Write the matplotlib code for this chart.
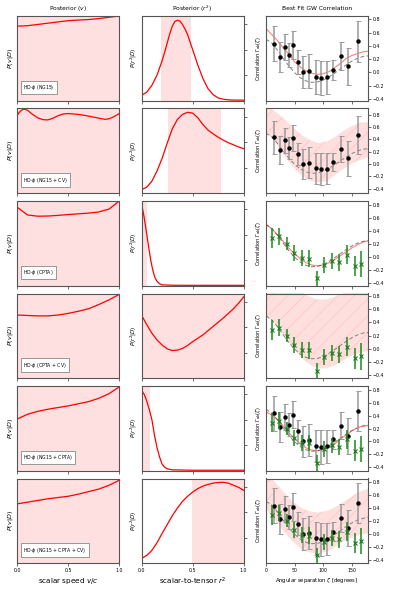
import numpy as np
import matplotlib
matplotlib.use("Agg")
import matplotlib.pyplot as plt

plt.rcParams["hatch.linewidth"] = 0.35

# ---- data ----
row_labels = ["HD-$\\phi$ (NG15)", "HD-$\\phi$ (NG15 + CV)", "HD-$\\phi$ (CPTA)",
              "HD-$\\phi$ (CPTA + CV)", "HD-$\\phi$ (NG15 + CPTA)", "HD-$\\phi$ (NG15 + CPTA + CV)"]

# posterior of v (normalised to axis height)
v_x = [0, 0.1, 0.2, 0.3, 0.4, 0.5, 0.6, 0.7, 0.8, 0.9, 1.0]
v_post = [
    [0.88, 0.885, 0.90, 0.915, 0.93, 0.945, 0.952, 0.958, 0.97, 0.985, 1.0],
    None,
    [0.925, 0.835, 0.82, 0.822, 0.83, 0.84, 0.848, 0.857, 0.87, 0.905, 1.0],
    [0.745, 0.74, 0.735, 0.735, 0.745, 0.765, 0.79, 0.82, 0.87, 0.925, 0.99],
    [0.61, 0.665, 0.70, 0.725, 0.745, 0.765, 0.79, 0.815, 0.855, 0.91, 0.99],
    [0.70, 0.72, 0.74, 0.76, 0.775, 0.79, 0.815, 0.845, 0.875, 0.92, 0.98],
]
v_x_cv = [0, 0.02, 0.04, 0.06, 0.075, 0.1, 0.15, 0.2, 0.25, 0.3, 0.35, 0.4, 0.45, 0.5,
          0.6, 0.7, 0.8, 0.86, 0.9, 0.95, 1.0]
v_post_cv = [0.92, 0.955, 0.978, 0.99, 0.99, 0.98, 0.93, 0.89, 0.868, 0.865, 0.885, 0.915,
             0.935, 0.94, 0.93, 0.91, 0.885, 0.872, 0.878, 0.905, 0.94]

# posterior of r^2
r_x_ng15 = [0, 0.05, 0.1, 0.15, 0.2, 0.225, 0.25, 0.275, 0.3, 0.325, 0.35, 0.375, 0.4,
            0.425, 0.45, 0.5, 0.55, 0.6, 0.65, 0.7, 0.75, 0.8, 0.85, 0.9, 1.0]
r_post_ng15 = [0.06, 0.10, 0.18, 0.30, 0.47, 0.57, 0.68, 0.79, 0.88, 0.935, 0.95, 0.94, 0.90,
               0.845, 0.78, 0.60, 0.42, 0.26, 0.14, 0.07, 0.03, 0.015, 0.008, 0.005, 0.004]
r_x20 = [0, 0.05, 0.1, 0.15, 0.2, 0.25, 0.3, 0.35, 0.4, 0.45, 0.5,
         0.55, 0.6, 0.65, 0.7, 0.75, 0.8, 0.85, 0.9, 0.95, 1.0]
r_post_ng15cv = [0.04, 0.07, 0.14, 0.26, 0.41, 0.59, 0.76, 0.87, 0.93, 0.955, 0.945,
                 0.89, 0.81, 0.745, 0.70, 0.66, 0.625, 0.595, 0.57, 0.545, 0.525]
r_x_cpta = [0, 0.0125, 0.025, 0.0375, 0.05, 0.0625, 0.075, 0.0875, 0.1, 0.1125, 0.125,
            0.1375, 0.15, 0.175, 0.2, 0.3, 0.5, 1.0]
r_post_cpta = [0.96, 0.88, 0.80, 0.70, 0.60, 0.50, 0.40, 0.31, 0.23, 0.165, 0.11,
               0.075, 0.05, 0.02, 0.008, 0.003, 0.002, 0.002]
r_post_cptacv = [0.74, 0.63, 0.53, 0.45, 0.39, 0.345, 0.325, 0.33, 0.35, 0.385, 0.43,
                 0.47, 0.51, 0.56, 0.61, 0.66, 0.71, 0.765, 0.82, 0.885, 0.96]
r_x_both = [0, 0.025, 0.05, 0.075, 0.1, 0.125, 0.15, 0.175, 0.2, 0.225, 0.25, 0.3, 0.5, 1.0]
r_post_both = [0.945, 0.90, 0.82, 0.72, 0.60, 0.42, 0.27, 0.16, 0.075, 0.04, 0.02, 0.008,
               0.003, 0.003]
r_post_all = [0.055, 0.09, 0.15, 0.24, 0.35, 0.455, 0.56, 0.65, 0.73, 0.79, 0.84,
              0.88, 0.91, 0.93, 0.945, 0.953, 0.955, 0.945, 0.92, 0.895, 0.86]
r_band = [(0.19, 0.48), (0.26, 0.775), (0.0, 0.05), (0.0, 1.0), (0.0, 0.085), (0.49, 1.0)]

# correlation data
ng_ang = [13.3, 24.2, 32.9, 40.3, 47.2, 55.9, 64.5, 74.9, 86.5, 96.4, 106, 116.4, 131, 143.6, 159.7]
ng_corr = [0.435, 0.228, 0.385, 0.258, 0.415, 0.157, 0.0, 0.02, -0.07, -0.086, -0.076, 0.035, 0.243, 0.09, 0.47]
ng_err = [0.27, 0.23, 0.2, 0.18, 0.21, 0.18, 0.24, 0.25, 0.25, 0.26, 0.25, 0.15, 0.21, 0.28, 0.31]

cp_ang = [10.4, 23, 36.3, 49, 62.3, 75, 88.2, 101.5, 114.7, 128, 141.3, 154.5, 166.6]
cp_corr = [0.29, 0.32, 0.20, 0.056, -0.02, -0.025, -0.33, -0.12, -0.06, -0.085, 0.035, -0.14, -0.115]
cp_err = [0.15, 0.13, 0.10, 0.12, 0.12, 0.13, 0.12, 0.12, 0.12, 0.13, 0.15, 0.16, 0.2]

ang10 = [0, 10, 20, 30, 40, 50, 60, 70, 80, 90, 100, 110, 120, 130, 140, 150, 160, 170, 180]
hd_corr = [0.5, 0.442, 0.334, 0.212, 0.094, -0.006, -0.082, -0.131, -0.151, -0.145,
           -0.116, -0.069, -0.011, 0.052, 0.114, 0.170, 0.213, 0.241, 0.25]
fit_ng15 = [0.66, 0.57, 0.48, 0.37, 0.27, 0.16, 0.08, 0.02, -0.015, -0.03,
            -0.02, 0.01, 0.07, 0.135, 0.21, 0.255, 0.285, 0.31, 0.32]
fit_cpta = [0.50, 0.43, 0.34, 0.24, 0.13, 0.05, -0.03, -0.09, -0.125, -0.14,
            -0.125, -0.09, -0.04, 0.02, 0.08, 0.14, 0.19, 0.23, 0.25]
fit_both = [0.46, 0.41, 0.34, 0.24, 0.13, 0.05, -0.04, -0.10, -0.135, -0.145,
            -0.125, -0.09, -0.04, 0.04, 0.10, 0.165, 0.215, 0.24, 0.25]

band_ang = [0, 15, 30, 45, 60, 75, 90, 105, 120, 135, 150, 165, 178]
band_ng15cv_hi = [0.95, 0.86, 0.75, 0.61, 0.49, 0.40, 0.35, 0.37, 0.45, 0.55, 0.63, 0.68, 0.69]
band_ng15cv_lo = [0.53, 0.36, 0.16, -0.03, -0.17, -0.26, -0.29, -0.27, -0.17, -0.07, 0.02, 0.08, 0.12]
band_cptacv_hi = [1.1, 1.05, 1.0, 0.95, 0.87, 0.80, 0.755, 0.76, 0.80, 0.855, 0.90, 0.98, 1.02]
band_cptacv_lo = [0.50, 0.39, 0.22, 0.04, -0.12, -0.23, -0.29, -0.29, -0.24, -0.16, -0.09, -0.045, -0.025]
band_all_hi = [0.95, 0.80, 0.65, 0.51, 0.41, 0.355, 0.335, 0.36, 0.42, 0.50, 0.59, 0.665, 0.70]
band_all_lo = [0.39, 0.22, 0.05, -0.10, -0.22, -0.28, -0.29, -0.27, -0.19, -0.10, -0.04, -0.005, 0.02]

corr_ylims = [(-0.425, 0.85), (-0.47, 0.9), (-0.44, 0.86), (-0.443, 0.84), (-0.45, 0.86), (-0.447, 0.85)]

# ---- figure ----
fig = plt.figure(figsize=(3.95, 5.92), dpi=100)

W, H = 395.0, 592.0
col_left = [17.3, 141.7, 266.0]
ax_w = 102.0
row_top = [16.0, 108.5, 201.0, 293.5, 386.0, 478.5]
ax_h = 84.5

pink = (1.0, 0.0, 0.0, 0.12)
spine_col = "#555555"
tick_fs = 3.4


def style(ax):
    for s in ax.spines.values():
        s.set_color(spine_col)
        s.set_linewidth(0.8)
    ax.tick_params(colors=spine_col, labelcolor="black", labelsize=tick_fs,
                   length=2, width=0.6, pad=1.5)


r_curves = [(r_x_ng15, r_post_ng15), (r_x20, r_post_ng15cv), (r_x_cpta, r_post_cpta),
            (r_x20, r_post_cptacv), (r_x_both, r_post_both), (r_x20, r_post_all)]
bands = {1: (band_ng15cv_lo, band_ng15cv_hi), 3: (band_cptacv_lo, band_cptacv_hi),
         5: (band_all_lo, band_all_hi)}
fits = {0: fit_ng15, 2: fit_cpta, 4: fit_both}

for i in range(6):
    bottom = 1 - (row_top[i] + ax_h) / H
    axes = [fig.add_axes([c / W, bottom, ax_w / W, ax_h / H]) for c in col_left]
    a1, a2, a3 = axes
    last = i == 5

    # column 1: posterior of v
    if i == 1:
        a1.plot(v_x_cv, v_post_cv, color="red", lw=0.9)
    else:
        a1.plot(v_x, v_post[i], color="red", lw=0.9)
    a1.axvspan(0, 1, color=pink, lw=0)
    a1.set_xlim(0, 1)
    a1.set_ylim(0, 1)
    a1.set_yticks([])
    a1.set_xticks([0, 0.5, 1.0])
    a1.set_ylabel("$P(v|D)$", fontsize=4.6, labelpad=2)
    a1.text(0.055, 0.1, row_labels[i], transform=a1.transAxes, fontsize=3.3,
            va="bottom", ha="left",
            bbox=dict(boxstyle="square,pad=0.5", fc="white", ec="#888888", lw=0.6))
    style(a1)

    # column 2: posterior of r^2
    xx, yy = r_curves[i]
    a2.plot(xx, yy, color="red", lw=0.9)
    a2.axvspan(r_band[i][0], r_band[i][1], color=pink, lw=0)
    a2.set_xlim(0, 1)
    a2.set_ylim(0, 1)
    a2.set_xticks([0, 0.5, 1.0])
    a2.yaxis.tick_right()
    a2.set_yticks([0.3, 0.6, 0.9])
    a2.tick_params(labelright=False)
    a2.set_ylabel("$P(r^2|D)$", fontsize=4.0, labelpad=2)
    style(a2)

    # column 3: correlation
    a3.plot(ang10, hd_corr, color="grey", lw=0.7, ls=(0, (4, 2.5)), zorder=2)
    if i in bands:
        lo, hi = bands[i]
        a3.fill_between(band_ang, lo, hi, color=(1, 0, 0, 0.13), lw=0, zorder=1)
        a3.fill_between(band_ang, lo, hi, facecolor="none", edgecolor=(1, 0.45, 0.45, 0.35),
                        hatch="//", lw=0, zorder=1)
    if i in fits:
        a3.plot(ang10, fits[i], color="red", alpha=0.5, lw=0.8, zorder=3)
    if i in (0, 1, 4, 5):
        a3.errorbar(ng_ang, ng_corr, yerr=ng_err, fmt="o", color="black", ms=2.2,
                    ecolor="#9a9a9a", elinewidth=1.1, capsize=1.8, capthick=0.7, zorder=4)
    if i in (2, 3, 4, 5):
        a3.errorbar(cp_ang, cp_corr, yerr=cp_err, fmt="x", color="#1f7a1f", ms=2.6, mew=0.8,
                    ecolor=(0.1, 0.55, 0.1, 0.85), elinewidth=1.3, capsize=0, zorder=5)
    a3.set_xlim(0, 178)
    a3.set_ylim(*corr_ylims[i])
    a3.set_xticks([0, 50, 100, 150])
    a3.set_yticks([-0.4, -0.2, 0.0, 0.2, 0.4, 0.6, 0.8])
    a3.yaxis.tick_right()
    a3.set_ylabel("Correlation $\\Gamma_{ab}(\\zeta)$", fontsize=3.6, labelpad=2)
    style(a3)

    if i == 0:
        a1.set_title("Posterior ($v$)", fontsize=4.3, pad=4)
        a2.set_title("Posterior ($r^2$)", fontsize=4.3, pad=4)
        a3.set_title("Best Fit GW Correlation", fontsize=4.3, pad=4)

    if last:
        a1.set_xlabel("scalar speed $v/c$", fontsize=5.2, labelpad=2)
        a2.set_xlabel("scalar-to-tensor $r^2$", fontsize=5.2, labelpad=2)
        a3.set_xlabel("Angular separation $\\zeta$ [degrees]", fontsize=3.8, labelpad=2)
    else:
        for a in axes:
            a.tick_params(labelbottom=False)

fig.savefig("out.png", dpi=100)
